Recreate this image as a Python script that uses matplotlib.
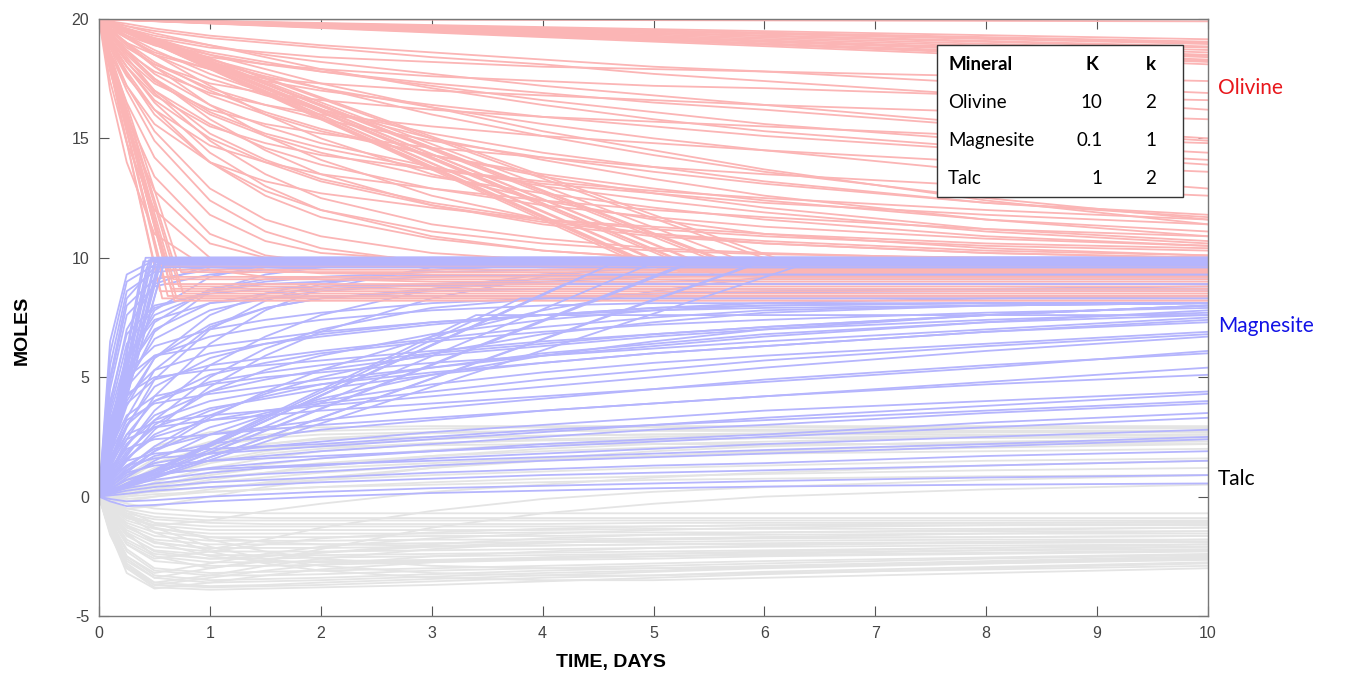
import numpy as np
import matplotlib
matplotlib.use("Agg")
import matplotlib.pyplot as plt
from matplotlib.patches import Rectangle

plt.rcParams['font.family'] = ['Liberation Sans', 'DejaVu Sans']
plt.rcParams['axes.unicode_minus'] = False

# sampling days shared by the curved runs
days = [0, 0.1, 0.25, 0.5, 1, 1.5, 2, 3, 4, 5, 6, 8, 10]

# olivine: slow straight decline from 20, value reached at day 10
olivine_slow_end = [19.9, 19.15, 19.05, 19.0, 18.95, 18.85, 18.8, 18.7, 18.6,
                    18.5, 18.45, 18.4, 18.3, 18.25, 18.2, 18.1]
# olivine: straight drop to a knee, then flat (mid band)
olivine_band_t = [4.9, 5.0, 5.05, 5.1, 5.15, 5.25, 5.3, 5.35, 5.45, 5.55, 5.6,
                  5.7, 5.8, 5.85, 6.0, 6.1, 6.2, 6.4]
olivine_band_v = [9.7, 9.6, 9.55, 9.5, 9.65, 9.4, 9.75, 9.55, 9.7, 9.3, 9.45,
                  9.6, 9.6, 9.45, 9.2, 9.35, 9.65, 9.5]
# olivine: steep drop in the first day, then flat
olivine_fast_t = [0.55, 0.57, 0.57, 0.6, 0.6, 0.62, 0.62, 0.65, 0.67, 0.68, 0.7, 0.72, 0.74, 0.76]
olivine_fast_v = [8.6, 8.3, 9.2, 8.9, 9.65, 8.4, 9.5, 8.7, 9.1, 8.2, 8.3, 8.8, 9.4, 8.5]
olivine_curves = [
    [20, 17.8, 15.5, 12.8, 10.6, 10.0, 9.8, 9.7, 9.7, 9.7, 9.7, 9.7, 9.7],
    [20, 18.4, 16.5, 14.2, 11.8, 10.7, 10.2, 9.9, 9.7, 9.6, 9.6, 9.6, 9.6],
    [20, 18.8, 17.2, 15.3, 12.9, 11.6, 10.9, 10.2, 9.9, 9.8, 9.75, 9.75, 9.75],
    [20, 19.0, 17.8, 16.2, 14.0, 12.6, 11.7, 10.8, 10.3, 10.0, 9.9, 9.75, 9.7],
    [20, 19.2, 18.2, 16.9, 14.9, 13.5, 12.5, 11.4, 10.8, 10.4, 10.2, 9.95, 9.8],
    [20, 19.4, 18.6, 17.5, 15.8, 14.5, 13.5, 12.2, 11.4, 10.9, 10.6, 10.2, 10.0],
    [20, 17.0, 14.0, 11.0, 9.5, 9.2, 9.1, 9.0, 9.0, 9.0, 9.0, 9.0, 9.0],
    [20, 17.4, 14.8, 12.0, 10.0, 9.5, 9.35, 9.3, 9.3, 9.3, 9.3, 9.3, 9.3],
    [20, 19.6, 19.0, 18.0, 16.4, 15.1, 14.1, 12.6, 11.6, 11.0, 10.6, 10.2, 10.0],
    [20, 19.1, 18.0, 16.5, 14.4, 13.0, 12.0, 10.9, 10.3, 10.0, 9.85, 9.75, 9.7],
    [20, 18.6, 17.0, 14.9, 12.4, 11.1, 10.4, 9.8, 9.6, 9.5, 9.5, 9.5, 9.5],
    [20, 19.7, 19.3, 18.5, 17.2, 16.0, 15.0, 13.5, 12.4, 11.6, 11.0, 10.4, 10.1],
    [20, 19.7, 19.5, 19.2, 18.8, 18.6, 18.4, 18.2, 18.0, 17.9, 17.8, 17.6, 17.4],
    [20, 19.6, 19.3, 18.9, 18.4, 18.1, 17.9, 17.6, 17.4, 17.2, 17.1, 16.8, 16.6],
    [20, 19.5, 19.0, 18.5, 17.9, 17.5, 17.3, 17.0, 16.8, 16.6, 16.4, 16.1, 15.8],
    [20, 19.4, 18.8, 18.1, 17.3, 16.9, 16.6, 16.2, 15.9, 15.7, 15.5, 15.1, 14.8],
    [20, 19.3, 18.6, 17.8, 16.9, 16.4, 16.0, 15.5, 15.1, 14.8, 14.5, 14.0, 13.6],
    [20, 19.2, 18.3, 17.3, 16.2, 15.6, 15.2, 14.6, 14.2, 13.8, 13.5, 13.0, 12.6],
    [20, 19.0, 18.0, 16.8, 15.5, 14.8, 14.3, 13.7, 13.2, 12.8, 12.5, 12.0, 11.6],
    [20, 18.8, 17.6, 16.2, 14.7, 14.0, 13.5, 12.9, 12.4, 12.0, 11.7, 11.2, 10.9],
    [20, 18.6, 17.2, 15.6, 14.0, 13.2, 12.7, 12.1, 11.6, 11.3, 11.0, 10.6, 10.4],
    [20, 19.8, 19.6, 19.3, 18.9, 18.5, 18.2, 17.7, 17.2, 16.8, 16.4, 15.6, 15.0],
    [20, 19.7, 19.4, 18.9, 18.2, 17.6, 17.1, 16.3, 15.6, 15.0, 14.5, 13.6, 12.9],
    [20, 19.6, 19.2, 18.5, 17.5, 16.8, 16.2, 15.2, 14.4, 13.8, 13.2, 12.3, 11.7],
    [20, 19.5, 18.9, 18.0, 16.8, 16.0, 15.3, 14.3, 13.5, 12.9, 12.4, 11.6, 11.1],
    [20, 19.3, 18.5, 17.4, 16.0, 15.1, 14.4, 13.4, 12.7, 12.1, 11.6, 10.9, 10.5],
    [20, 19.85, 19.7, 19.5, 19.2, 19.0, 18.8, 18.4, 18.1, 17.7, 17.4, 16.8, 16.2],
    [20, 19.0, 18.0, 16.6, 15.0, 14.0, 13.2, 12.2, 11.5, 11.0, 10.7, 10.3, 10.1],
    [20, 19.5, 19.0, 18.2, 17.0, 16.1, 15.4, 14.3, 13.4, 12.7, 12.1, 11.2, 10.7],
    [20, 19.7, 19.3, 18.7, 17.7, 16.9, 16.2, 15.0, 14.1, 13.3, 12.6, 11.6, 10.9],
    [20, 19.8, 19.5, 19.1, 18.3, 17.7, 17.1, 16.0, 15.1, 14.3, 13.6, 12.5, 11.6],
    [20, 19.8, 19.6, 19.2, 18.5, 17.9, 17.3, 16.3, 15.3, 14.5, 13.7, 12.4, 11.4],
    [20, 19.9, 19.7, 19.4, 18.9, 18.4, 17.9, 17.1, 16.4, 15.8, 15.3, 14.6, 14.1],
    [20, 19.4, 18.7, 17.7, 16.4, 15.5, 14.8, 13.8, 13.0, 12.4, 11.9, 11.1, 10.6],
    [20, 19.5, 18.9, 18.1, 17.1, 16.4, 15.8, 14.9, 14.2, 13.6, 13.1, 12.3, 11.8],
    [20, 19.1, 18.2, 17.0, 15.6, 14.6, 13.9, 12.9, 12.2, 11.7, 11.3, 10.8, 10.5],
    [20, 19.6, 19.2, 18.6, 17.9, 17.4, 17.0, 16.4, 15.9, 15.5, 15.1, 14.5, 13.9],
    [20, 19.75, 19.45, 19.0, 18.5, 18.1, 17.8, 17.3, 16.9, 16.5, 16.2, 15.5, 14.9],
    [20, 18.9, 17.7, 16.0, 14.0, 12.8, 12.0, 11.1, 10.6, 10.3, 10.15, 10.0, 9.9],
    [20, 18.2, 16.0, 13.4, 11.0, 10.1, 9.8, 9.7, 9.7, 9.7, 9.7, 9.7, 9.7],
    [20, 19.9, 19.8, 19.6, 19.3, 19.1, 18.9, 18.6, 18.3, 18.0, 17.8, 17.3, 16.9],
    [20, 19.4, 18.6, 17.5, 16.1, 15.2, 14.6, 13.7, 13.1, 12.7, 12.3, 11.8, 11.4],
    [20, 19.8, 19.55, 19.1, 18.6, 18.2, 17.8, 17.2, 16.6, 16.1, 15.6, 14.9, 14.4],
    [20, 19.3, 18.4, 17.0, 15.2, 14.1, 13.3, 12.3, 11.6, 11.2, 10.9, 10.5, 10.3],
]

# magnesite: steep straight rise to ~10, then flat
magnesite_fast_t = [0.4, 0.42, 0.43, 0.45, 0.47, 0.48, 0.5, 0.52, 0.53, 0.55, 0.56, 0.58, 0.6]
magnesite_fast_v = [9.85, 10.0, 9.6, 9.9, 10.0, 9.95, 9.8, 10.0, 9.75, 9.9, 9.85, 9.7, 10.0]
# magnesite: slower straight rise (mid band)
magnesite_band_t = [3.4, 3.8, 4.2, 4.4, 4.6, 5.0, 5.2, 5.4, 5.9, 6.0, 6.4]
magnesite_band_v = [7.6, 8.3, 8.9, 9.3, 9.7, 9.8, 9.6, 9.9, 9.7, 9.9, 9.8]
magnesite_curves = [
    [0, 6.5, 9.3, 9.9, 10, 10, 10, 10, 10, 10, 10, 10, 10],
    [0, 5.0, 8.3, 9.6, 9.95, 10, 10, 10, 10, 10, 10, 10, 10],
    [0, 3.8, 7.0, 8.9, 9.7, 9.9, 10, 10, 10, 10, 10, 10, 10],
    [0, 2.8, 5.6, 7.8, 9.2, 9.7, 9.9, 10, 10, 10, 10, 10, 10],
    [0, 3.0, 5.8, 7.6, 8.6, 9.0, 9.2, 9.4, 9.5, 9.5, 9.5, 9.5, 9.5],
    [0, 2.5, 4.8, 6.6, 7.8, 8.3, 8.6, 8.9, 9.1, 9.2, 9.3, 9.4, 9.4],
    [0, 2.0, 4.0, 5.8, 7.2, 7.9, 8.3, 8.7, 9.0, 9.2, 9.3, 9.5, 9.6],
    [0, 1.4, 3.0, 4.6, 5.8, 6.4, 6.8, 7.3, 7.6, 7.8, 7.9, 8.0, 8.1],
    [0, 1.2, 2.6, 4.0, 5.1, 5.6, 6.0, 6.5, 6.9, 7.2, 7.4, 7.7, 7.9],
    [0, 1.0, 2.2, 3.4, 4.4, 4.9, 5.3, 5.9, 6.3, 6.7, 7.0, 7.4, 7.7],
    [0, 0.9, 1.9, 2.9, 3.7, 4.1, 4.5, 5.1, 5.6, 6.0, 6.3, 6.9, 7.3],
    [0, 0.7, 1.6, 2.5, 3.2, 3.6, 3.9, 4.4, 4.9, 5.3, 5.7, 6.3, 6.8],
    [0, 0.6, 1.3, 2.0, 2.6, 2.9, 3.2, 3.7, 4.1, 4.5, 4.9, 5.5, 6.0],
    [0, 0.5, 1.1, 1.7, 2.2, 2.5, 2.8, 3.2, 3.6, 3.9, 4.2, 4.7, 5.1],
    [0, 0.4, 0.9, 1.4, 1.8, 2.1, 2.3, 2.7, 3.0, 3.3, 3.6, 4.0, 4.4],
    [0, 0.3, 0.7, 1.1, 1.5, 1.7, 1.9, 2.2, 2.5, 2.8, 3.0, 3.5, 3.9],
    [0, 0.25, 0.55, 0.9, 1.2, 1.4, 1.6, 1.9, 2.2, 2.4, 2.6, 3.1, 3.5],
    [0, 0.2, 0.45, 0.7, 1.0, 1.2, 1.3, 1.6, 1.8, 2.0, 2.2, 2.5, 2.8],
    [0, 0.15, 0.35, 0.55, 0.8, 0.95, 1.05, 1.3, 1.5, 1.65, 1.8, 2.1, 2.4],
    [0, 0.1, 0.25, 0.4, 0.6, 0.7, 0.8, 1.0, 1.15, 1.3, 1.4, 1.7, 1.9],
    [0, 0.05, 0.12, 0.25, 0.4, 0.5, 0.6, 0.75, 0.9, 1.0, 1.1, 1.3, 1.5],
    [0, -0.1, -0.2, -0.15, 0.0, 0.1, 0.2, 0.35, 0.45, 0.55, 0.65, 0.8, 0.9],
    [0, -0.2, -0.4, -0.35, -0.2, -0.1, 0.0, 0.15, 0.25, 0.35, 0.42, 0.5, 0.55],
    [0, 2.2, 3.9, 4.9, 5.5, 5.8, 6.1, 6.6, 7.1, 7.5, 7.8, 8.0, 8.1],
    [0, 1.8, 3.2, 3.9, 4.3, 4.6, 4.9, 5.4, 5.9, 6.3, 6.7, 7.3, 7.8],
    [0, 1.5, 2.6, 3.1, 3.4, 3.6, 3.8, 4.2, 4.6, 5.0, 5.4, 6.1, 6.7],
    [0, 1.2, 2.0, 2.4, 2.6, 2.8, 3.0, 3.3, 3.6, 3.9, 4.2, 4.8, 5.4],
    [0, 0.9, 1.5, 1.8, 2.0, 2.1, 2.2, 2.5, 2.8, 3.0, 3.3, 3.8, 4.3],
    [0, 2.6, 4.6, 5.9, 6.7, 7.1, 7.4, 7.8, 8.0, 8.1, 8.1, 8.1, 8.1],
    [0, 3.4, 5.9, 7.4, 8.1, 8.3, 8.4, 8.4, 8.4, 8.4, 8.4, 8.4, 8.4],
    [0, 0.8, 1.8, 3.0, 4.4, 5.3, 5.9, 6.8, 7.4, 7.8, 8.0, 8.1, 8.1],
    [0, 0.5, 1.2, 2.1, 3.4, 4.3, 5.0, 6.0, 6.8, 7.3, 7.7, 8.0, 8.1],
    [0, 0.3, 0.8, 1.5, 2.6, 3.4, 4.1, 5.1, 5.9, 6.5, 7.0, 7.6, 8.0],
    [0, 1.0, 2.4, 4.2, 6.4, 7.8, 8.7, 9.6, 9.9, 10, 10, 10, 10],
    [0, 0.6, 1.5, 2.8, 4.6, 5.9, 6.9, 8.3, 9.2, 9.7, 9.9, 10, 10],
    [0, 0.4, 1.0, 1.9, 3.3, 4.4, 5.3, 6.7, 7.8, 8.6, 9.2, 9.8, 10],
    [0, 4.5, 7.6, 8.8, 9.3, 9.5, 9.6, 9.7, 9.8, 9.8, 9.8, 9.8, 9.8],
    [0, 1.8, 3.8, 5.8, 7.6, 8.5, 9.0, 9.5, 9.7, 9.8, 9.8, 9.8, 9.8],
    [0, 4.0, 6.8, 8.0, 8.5, 8.7, 8.8, 8.9, 9.0, 9.0, 9.1, 9.1, 9.1],
    [0, 3.2, 5.2, 6.3, 7.0, 7.4, 7.7, 8.1, 8.3, 8.5, 8.6, 8.7, 8.8],
    [0, 2.4, 4.2, 5.3, 6.0, 6.4, 6.7, 7.2, 7.6, 7.9, 8.1, 8.3, 8.4],
    [0, 1.6, 3.0, 4.0, 4.8, 5.2, 5.5, 6.0, 6.4, 6.8, 7.1, 7.6, 8.0],
    [0, 1.1, 2.2, 3.2, 4.0, 4.4, 4.7, 5.2, 5.6, 6.0, 6.3, 6.9, 7.4],
    [0, 0.7, 1.6, 2.6, 3.6, 4.2, 4.7, 5.4, 6.0, 6.4, 6.8, 7.3, 7.6],
    [0, 0.5, 1.1, 1.9, 2.9, 3.5, 4.0, 4.7, 5.2, 5.6, 5.9, 6.4, 6.9],
    [0, 2.0, 3.4, 4.2, 4.7, 5.0, 5.2, 5.6, 5.9, 6.2, 6.5, 7.0, 7.5],
    [0, 1.4, 2.4, 2.9, 3.2, 3.4, 3.6, 3.9, 4.2, 4.5, 4.8, 5.4, 6.1],
    [0, 0.8, 1.3, 1.6, 1.8, 1.95, 2.1, 2.4, 2.7, 3.0, 3.2, 3.6, 4.0],
    [0, 0.6, 1.0, 1.3, 1.5, 1.6, 1.7, 1.9, 2.1, 2.3, 2.5, 2.9, 3.3],
    [0, 0.35, 0.7, 0.95, 1.15, 1.25, 1.35, 1.5, 1.65, 1.8, 1.95, 2.2, 2.5],
    [0, 5.5, 8.6, 9.4, 9.6, 9.65, 9.7, 9.7, 9.7, 9.7, 9.7, 9.7, 9.7],
    [0, 6.0, 9.0, 9.7, 9.9, 9.9, 9.9, 9.9, 9.9, 9.9, 9.9, 9.9, 9.9],
    [0, 2.2, 4.6, 6.9, 8.6, 9.3, 9.6, 9.8, 9.9, 9.9, 9.9, 9.9, 9.9],
    [0, 1.3, 2.9, 4.9, 7.0, 8.2, 8.9, 9.5, 9.7, 9.8, 9.8, 9.8, 9.8],
    [0, 0.9, 2.1, 3.6, 5.5, 6.7, 7.6, 8.7, 9.3, 9.6, 9.7, 9.8, 9.8],
    [0, 3.6, 6.4, 7.9, 8.6, 8.9, 9.0, 9.2, 9.3, 9.3, 9.3, 9.3, 9.3],
    [0, 2.9, 5.3, 7.0, 8.1, 8.5, 8.7, 8.85, 8.9, 8.9, 8.9, 8.9, 8.9],
    [0, 1.5, 3.3, 5.3, 7.1, 7.9, 8.3, 8.6, 8.7, 8.7, 8.7, 8.7, 8.7],
    [0, 0.7, 1.7, 3.2, 5.0, 6.2, 7.0, 7.9, 8.3, 8.5, 8.55, 8.6, 8.6],
    [0, 4.8, 8.0, 9.1, 9.5, 9.6, 9.6, 9.6, 9.6, 9.6, 9.6, 9.6, 9.6],
    [0, 2.6, 5.1, 7.3, 8.7, 9.1, 9.2, 9.25, 9.25, 9.25, 9.25, 9.25, 9.25],
    [0, 3.0, 5.0, 5.9, 6.3, 6.6, 6.9, 7.3, 7.6, 7.9, 8.0, 8.1, 8.1],
    [0, 2.6, 4.3, 5.0, 5.3, 5.5, 5.7, 6.1, 6.5, 6.8, 7.1, 7.6, 8.0],
]

talc_curves = [
    [0, 0.3, 0.9, 1.6, 2.3, 2.6, 2.75, 2.85, 2.9, 2.9, 2.9, 2.9, 2.9],
    [0, 0.1, 0.5, 1.1, 1.8, 2.2, 2.45, 2.65, 2.75, 2.8, 2.8, 2.85, 2.85],
    [0, 0.0, 0.2, 0.6, 1.2, 1.6, 1.9, 2.2, 2.4, 2.5, 2.6, 2.7, 2.7],
    [0, -0.1, 0.0, 0.3, 0.7, 1.0, 1.3, 1.7, 2.0, 2.2, 2.3, 2.5, 2.6],
    [0, -0.2, -0.2, 0.0, 0.3, 0.6, 0.8, 1.2, 1.5, 1.7, 1.9, 2.2, 2.4],
    [0, 0.4, 1.2, 2.1, 2.7, 2.85, 2.9, 2.95, 2.95, 2.95, 2.95, 2.95, 2.95],
    [0, 0.05, 0.2, 0.45, 0.8, 1.0, 1.2, 1.4, 1.6, 1.7, 1.8, 1.9, 2.0],
    [0, 0.0, 0.1, 0.2, 0.4, 0.55, 0.7, 0.9, 1.05, 1.2, 1.3, 1.5, 1.6],
    [0, -0.1, -0.1, 0.0, 0.2, 0.3, 0.4, 0.6, 0.75, 0.85, 0.95, 1.1, 1.2],
    [0, 0.2, 0.6, 1.2, 1.9, 2.2, 2.4, 2.5, 2.55, 2.6, 2.6, 2.6, 2.6],
    [0, 0.1, 0.35, 0.8, 1.4, 1.8, 2.0, 2.25, 2.35, 2.4, 2.45, 2.45, 2.5],
    [0, -0.3, -0.5, -0.4, 0.0, 0.4, 0.7, 1.2, 1.6, 1.9, 2.1, 2.3, 2.4],
    [0, -0.4, -0.9, -1.2, -1.0, -0.6, -0.3, 0.2, 0.5, 0.8, 1.0, 1.3, 1.5],
    [0, -0.5, -1.2, -1.9, -2.2, -1.8, -1.3, -0.6, -0.1, 0.2, 0.4, 0.7, 0.9],
    [0, -0.6, -1.5, -2.5, -3.0, -2.7, -2.2, -1.3, -0.7, -0.3, 0.0, 0.3, 0.5],
    [0, 0.1, 0.3, 0.5, 0.9, 1.2, 1.4, 1.7, 1.9, 2.05, 2.15, 2.25, 2.3],
    [0, 0.0, 0.0, 0.1, 0.2, 0.3, 0.4, 0.5, 0.6, 0.7, 0.75, 0.85, 0.9],
    [0, 0.3, 0.8, 1.4, 1.9, 2.05, 2.1, 2.15, 2.2, 2.2, 2.2, 2.2, 2.2],
    [0, 0.2, 0.7, 1.4, 2.1, 2.45, 2.6, 2.7, 2.75, 2.75, 2.75, 2.75, 2.75],
    [0, 0.0, 0.3, 0.8, 1.5, 1.9, 2.15, 2.4, 2.55, 2.6, 2.65, 2.7, 2.75],
    [0, -0.1, 0.1, 0.4, 1.0, 1.35, 1.6, 1.95, 2.2, 2.35, 2.45, 2.55, 2.6],
    [0, 0.0, 0.1, 0.3, 0.6, 0.8, 1.0, 1.3, 1.55, 1.7, 1.85, 2.05, 2.2],
    [0, -1.6, -3.0, -3.8, -3.9, -3.85, -3.8, -3.7, -3.55, -3.4, -3.25, -3.0, -2.8],
    [0, -1.4, -2.8, -3.6, -3.75, -3.7, -3.6, -3.45, -3.3, -3.15, -3.0, -2.8, -2.6],
    [0, -1.2, -2.5, -3.3, -3.5, -3.45, -3.4, -3.25, -3.1, -3.0, -2.9, -2.7, -2.5],
    [0, -1.0, -2.2, -3.0, -3.2, -3.15, -3.1, -3.0, -2.9, -2.8, -2.7, -2.55, -2.4],
    [0, -0.9, -2.0, -2.7, -2.9, -2.9, -2.85, -2.75, -2.65, -2.6, -2.5, -2.4, -2.3],
    [0, -0.8, -1.8, -2.4, -2.6, -2.6, -2.55, -2.5, -2.45, -2.4, -2.35, -2.25, -2.2],
    [0, -0.7, -1.5, -2.1, -2.3, -2.3, -2.3, -2.25, -2.2, -2.15, -2.1, -2.05, -2.0],
    [0, -0.6, -1.3, -1.8, -2.0, -2.0, -2.0, -1.95, -1.9, -1.9, -1.85, -1.8, -1.8],
    [0, -0.5, -1.1, -1.5, -1.7, -1.7, -1.7, -1.65, -1.65, -1.6, -1.6, -1.55, -1.55],
    [0, -0.4, -0.9, -1.2, -1.4, -1.4, -1.4, -1.4, -1.4, -1.35, -1.35, -1.35, -1.3],
    [0, -0.3, -0.7, -0.95, -1.1, -1.15, -1.15, -1.15, -1.15, -1.1, -1.1, -1.1, -1.1],
    [0, -0.2, -0.5, -0.7, -0.85, -0.9, -0.9, -0.9, -0.9, -0.9, -0.9, -0.9, -0.9],
    [0, -0.1, -0.3, -0.5, -0.65, -0.7, -0.7, -0.7, -0.7, -0.7, -0.7, -0.7, -0.7],
    [0, -0.3, -0.8, -1.5, -2.3, -2.8, -3.1, -3.4, -3.5, -3.5, -3.4, -3.2, -3.0],
    [0, -0.2, -0.6, -1.1, -1.8, -2.3, -2.6, -2.9, -3.0, -3.0, -2.95, -2.8, -2.65],
    [0, -1.5, -3.2, -3.85, -3.6, -3.3, -3.05, -2.75, -2.55, -2.4, -2.3, -2.15, -2.0],
    [0, -1.3, -2.9, -3.6, -3.3, -2.9, -2.6, -2.2, -1.95, -1.8, -1.7, -1.55, -1.45],
    [0, -1.1, -2.5, -3.2, -2.8, -2.4, -2.1, -1.75, -1.55, -1.4, -1.3, -1.2, -1.15],
    [0, -0.9, -2.0, -2.6, -2.3, -2.0, -1.75, -1.5, -1.35, -1.25, -1.2, -1.1, -1.05],
    [0, -0.5, -1.2, -1.9, -2.5, -2.7, -2.75, -2.7, -2.6, -2.5, -2.4, -2.25, -2.1],
    [0, -0.7, -1.6, -2.3, -2.6, -2.5, -2.35, -2.1, -1.9, -1.8, -1.75, -1.7, -1.65],
    [0, -0.35, -0.8, -1.3, -1.7, -1.9, -2.0, -2.05, -2.05, -2.0, -2.0, -1.95, -1.9],
    [0, -1.5, -2.9, -3.7, -3.8, -3.75, -3.7, -3.55, -3.4, -3.3, -3.15, -2.95, -2.75],
    [0, -1.3, -2.6, -3.4, -3.6, -3.55, -3.5, -3.35, -3.2, -3.1, -2.95, -2.75, -2.55],
    [0, -1.1, -2.3, -3.1, -3.3, -3.3, -3.25, -3.1, -3.0, -2.9, -2.8, -2.6, -2.45],
    [0, -0.9, -1.9, -2.5, -2.75, -2.75, -2.7, -2.65, -2.55, -2.5, -2.45, -2.35, -2.25],
    [0, -0.75, -1.65, -2.25, -2.45, -2.45, -2.45, -2.4, -2.35, -2.3, -2.25, -2.15, -2.1],
    [0, -0.65, -1.4, -1.95, -2.15, -2.15, -2.15, -2.1, -2.05, -2.0, -1.95, -1.9, -1.9],
    [0, -0.55, -1.2, -1.65, -1.85, -1.85, -1.85, -1.8, -1.8, -1.75, -1.7, -1.7, -1.65],
    [0, -0.45, -1.0, -1.35, -1.55, -1.55, -1.55, -1.55, -1.5, -1.5, -1.5, -1.45, -1.45],
    [0, -0.35, -0.8, -1.1, -1.25, -1.25, -1.25, -1.25, -1.25, -1.25, -1.2, -1.2, -1.2],
    [0, -0.25, -0.6, -0.85, -1.0, -1.0, -1.0, -1.0, -1.0, -1.0, -1.0, -1.0, -1.0],
    [0, -0.25, -0.7, -1.3, -2.1, -2.6, -2.9, -3.2, -3.3, -3.3, -3.2, -3.05, -2.9],
    [0, -1.4, -3.0, -3.7, -3.4, -3.1, -2.85, -2.5, -2.3, -2.15, -2.05, -1.9, -1.8],
    [0, -1.2, -2.7, -3.4, -3.0, -2.65, -2.35, -2.0, -1.75, -1.6, -1.5, -1.4, -1.3],
]

# rate table shown in the corner
table_rows = [["Mineral", "K", "k"],
              ["Olivine", "10", "2"],
              ["Magnesite", "0.1", "1"],
              ["Talc", "1", "2"]]

T_END = 10
OLIVINE_START = 20

OLIVINE_COLOR = '#FBB5B5'
MAGNESITE_COLOR = '#B5B5FD'
TALC_COLOR = '#E4E4E4'
LW = 1.3


def knee_line(start, t_knee, v_knee):
    return [0, t_knee, T_END], [start, v_knee, v_knee]


def draw_runs(ax):
    for run in talc_curves:
        ax.plot(days, run, color=TALC_COLOR, lw=LW)

    for run in magnesite_curves:
        ax.plot(days, run, color=MAGNESITE_COLOR, lw=LW)

    for run in olivine_curves:
        ax.plot(days, run, color=OLIVINE_COLOR, lw=LW)
    for t_k, v_k in zip(olivine_fast_t + olivine_band_t,
                        olivine_fast_v + olivine_band_v):
        x, y = knee_line(OLIVINE_START, t_k, v_k)
        ax.plot(x, y, color=OLIVINE_COLOR, lw=LW)
    for v_end in olivine_slow_end:
        ax.plot([0, T_END], [OLIVINE_START, v_end], color=OLIVINE_COLOR, lw=LW)

    # straight magnesite runs last so the 10-mole plateau stays on top
    for t_k, v_k in zip(magnesite_fast_t + magnesite_band_t,
                        magnesite_fast_v + magnesite_band_v):
        x, y = knee_line(0, t_k, v_k)
        ax.plot(x, y, color=MAGNESITE_COLOR, lw=LW)


def draw_table(ax):
    ax.add_patch(Rectangle((0.7557, 0.7018), 0.2218, 0.2546, transform=ax.transAxes,
                           facecolor='white', edgecolor='#333333', lw=1.0, zorder=10))
    font = ['Lato', 'DejaVu Sans']
    row_y = [0.9229, 0.8593, 0.7956, 0.7320]
    for i, (name, big_k, small_k) in enumerate(table_rows):
        weight = 'bold' if i == 0 else 'normal'
        ax.text(0.7656, row_y[i], name, transform=ax.transAxes, ha='left', va='center',
                fontsize=13.5, fontweight=weight, family=font, zorder=11)
        if i == 0:
            ax.text(0.8950, row_y[i], big_k, transform=ax.transAxes, ha='center', va='center',
                    fontsize=13.5, fontweight=weight, family=font, zorder=11)
        else:
            ax.text(0.9050, row_y[i], big_k, transform=ax.transAxes, ha='right', va='center',
                    fontsize=13.5, fontweight=weight, family=font, zorder=11)
        ax.text(0.9486, row_y[i], small_k, transform=ax.transAxes, ha='center', va='center',
                fontsize=13.5, fontweight=weight, family=font, zorder=11)


def plot_chart():
    fig = plt.figure(figsize=(13.49, 6.77), dpi=100)
    ax = fig.add_axes([0.0734, 0.0901, 0.8221, 0.8819])

    draw_runs(ax)
    draw_table(ax)

    ax.set_xlim(0, 10)
    ax.set_ylim(-5, 20)
    ax.set_xticks(range(0, 11))
    ax.set_yticks([-5, 0, 5, 10, 15, 20])
    ax.tick_params(direction='in', top=True, right=True, length=7, width=0.8,
                   color='#555555', labelcolor='#444444', labelsize=11.5, pad=7)
    for spine in ax.spines.values():
        spine.set_color('#777777')
        spine.set_linewidth(1.0)

    label_font = ['Liberation Sans Narrow', 'Liberation Sans', 'DejaVu Sans']
    fig.text(22 / 1349, 1 - 330 / 677, 'MOLES', rotation=90, ha='center', va='center',
             fontsize=14, fontweight='bold', family=label_font)
    fig.text(611 / 1349, 1 - 662 / 677, 'TIME, DAYS', ha='center', va='center',
             fontsize=14, fontweight='bold', family=label_font)

    side_font = ['Lato', 'DejaVu Sans']
    ax.text(1.009, 0.8844, 'Olivine', transform=ax.transAxes, color='#E8161B',
            fontsize=15, family=side_font, ha='left', va='center')
    ax.text(1.009, 0.4858, 'Magnesite', transform=ax.transAxes, color='#1212E6',
            fontsize=15, family=side_font, ha='left', va='center')
    ax.text(1.009, 0.2295, 'Talc', transform=ax.transAxes, color='black',
            fontsize=15, family=side_font, ha='left', va='center')

    fig.savefig('out.png', dpi=100)


def main():
    plot_chart()


if __name__ == "__main__":
    main()
